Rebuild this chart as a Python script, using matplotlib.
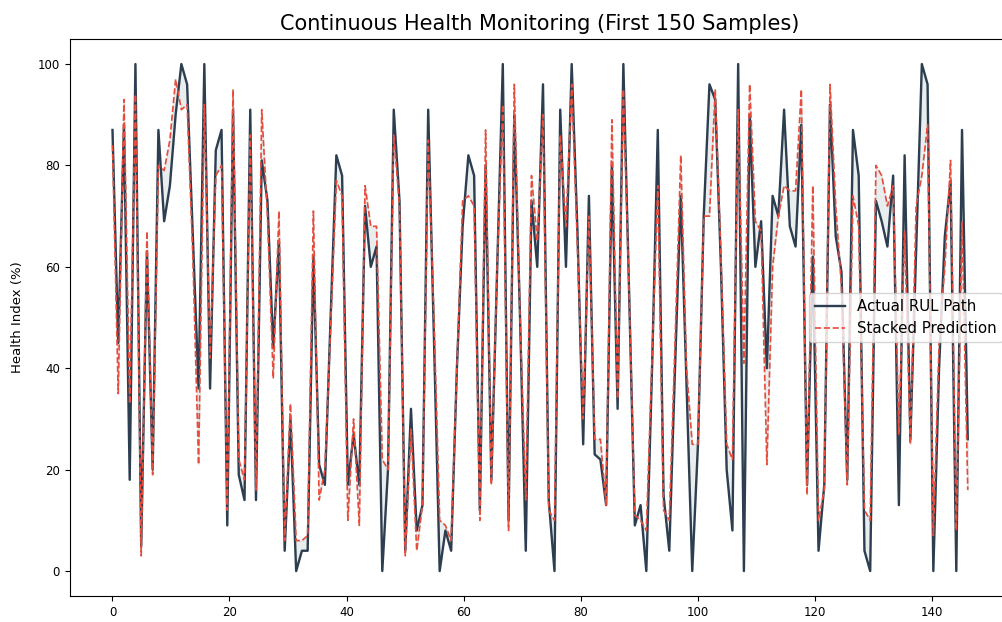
import numpy as np
import matplotlib
matplotlib.use("Agg")
import matplotlib.pyplot as plt

# values (health index, %)
actual = [87, 45, 88, 18, 100, 5, 63, 20, 87, 69,
          76, 90, 100, 96, 66, 36, 100, 36, 83, 87,
          9, 91, 19, 14, 91, 14, 81, 73, 44, 65,
          4, 30, 0, 4, 4, 62, 21, 17, 50, 82,
          78, 17, 27, 17, 72, 60, 64, 0, 20, 91,
          73, 4, 32, 8, 13, 91, 46, 0, 8, 4,
          40, 68, 82, 78, 12, 80, 18, 59, 100, 10,
          90, 50, 4, 73, 60, 96, 14, 0, 91, 60,
          100, 67, 25, 74, 23, 22, 13, 80, 32, 100,
          55, 9, 13, 0, 40, 87, 15, 4, 40, 74,
          37, 0, 25, 70, 96, 93, 60, 20, 8, 100,
          0, 90, 60, 69, 40, 74, 70, 91, 68, 64,
          88, 17, 62, 4, 17, 92, 66, 59, 18, 87,
          78, 4, 0, 73, 69, 64, 78, 13, 82, 26,
          63, 100, 96, 0, 40, 66, 77, 0, 87, 26]

predicted = [84, 35, 93, 33, 94, 3, 67, 19, 80, 79,
             85, 97, 91, 92, 62, 21, 92, 42, 78, 80,
             12, 95, 22, 18, 86, 16, 91, 70, 38, 71,
             6, 33, 6, 6, 7, 71, 14, 20, 48, 77,
             74, 10, 30, 9, 76, 68, 68, 22, 20, 86,
             72, 3, 28, 4, 13, 85, 50, 10, 9, 6,
             40, 73, 74, 72, 10, 87, 17, 60, 92, 8,
             96, 50, 14, 78, 65, 90, 12, 10, 86, 68,
             96, 64, 30, 70, 26, 26, 13, 89, 34, 95,
             55, 11, 10, 8, 42, 76, 12, 10, 45, 82,
             40, 25, 25, 70, 70, 95, 62, 25, 22, 91,
             41, 96, 69, 67, 21, 60, 70, 76, 75, 75,
             95, 15, 76, 10, 16, 96, 72, 56, 17, 74,
             68, 12, 10, 80, 78, 72, 76, 27, 67, 25,
             72, 78, 88, 7, 45, 60, 81, 8, 69, 16]

# sample spacing on the x axis as it appears in the reference
step = 0.981
samples = np.arange(len(actual)) * step

fig = plt.figure(figsize=(10.03, 6.22), dpi=100)
ax = fig.add_axes([0.0695, 0.0412, 0.938, 0.8966])

ax.plot(samples, actual, color='#2c3e50', linewidth=1.7, label='Actual RUL Path')
ax.plot(samples, predicted, color='#e74c3c', linestyle='--', linewidth=1.2, label='Stacked Prediction')
ax.fill_between(samples, actual, predicted, color='#95a5a6', alpha=0.2)

ax.set_title('Continuous Health Monitoring (First 150 Samples)', fontsize=15)
ax.set_ylabel('Health Index (%)', fontsize=9.5, labelpad=10)
ax.tick_params(labelsize=8.5)
ax.legend(loc='center right', fontsize=10.8)

fig.savefig('out.png', dpi=100)
